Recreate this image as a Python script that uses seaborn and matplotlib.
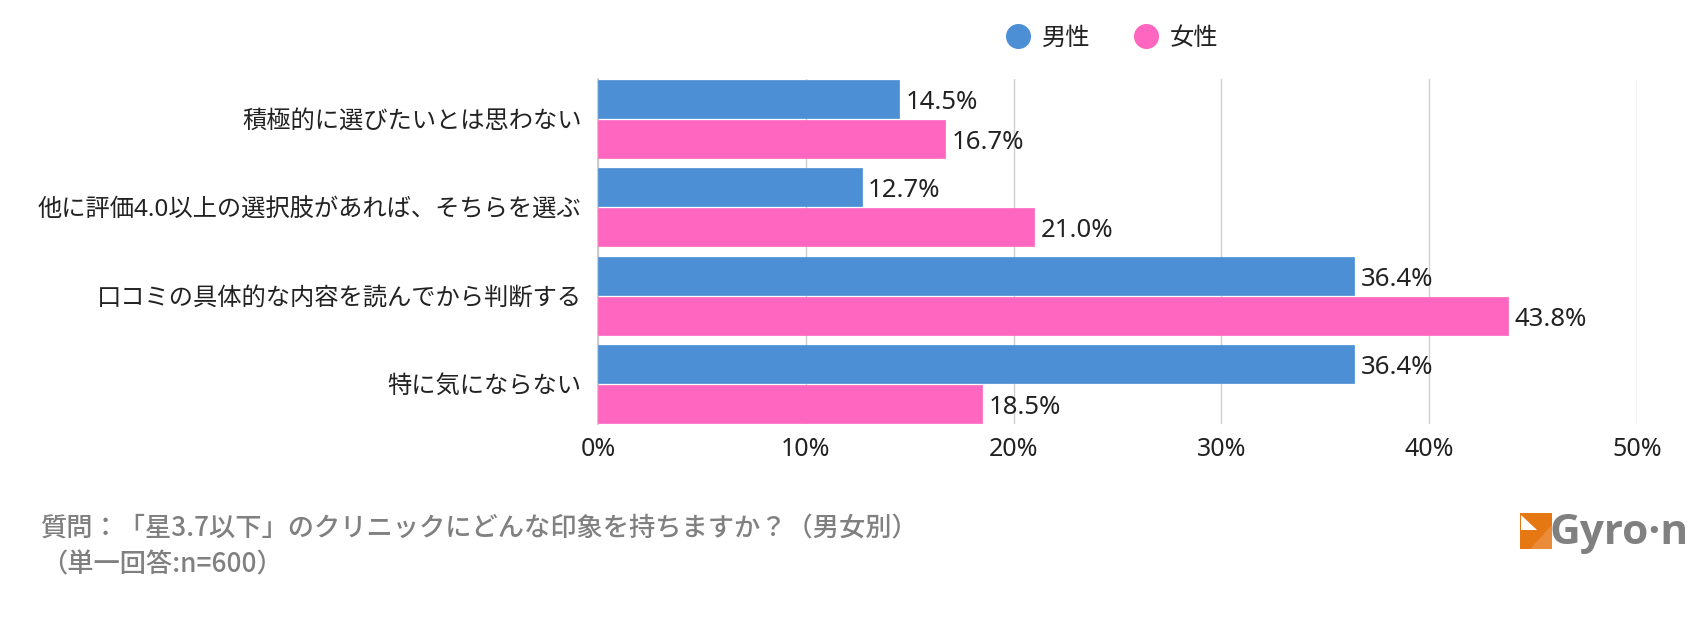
import pandas as pd
import matplotlib
matplotlib.use("Agg")
import matplotlib.pyplot as plt
import seaborn as sns
from matplotlib.lines import Line2D
from matplotlib.patches import Polygon, Rectangle

categories = ["積極的に選びたいとは思わない", "他に評価4.0以上の選択肢があれば、そちらを選ぶ",
              "口コミの具体的な内容を読んでから判断する", "特に気にならない"]
male = [14.5, 12.7, 36.4, 36.4]
female = [16.7, 21.0, 43.8, 18.5]
series_names = ["男性", "女性"]
x_ticks = [0, 10, 20, 30, 40, 50]
# full-width punctuation: \uff1a colon, \uff1f question mark, \uff08 \uff09 brackets
note_lines = ["質問\uff1a「星3.7以下」のクリニックにどんな印象を持ちますか\uff1f\uff08男女別\uff09",
              "\uff08単一回答:n=600\uff09"]

W, H = 1700, 630
BLUE = "#4d8fd5"
PINK = "#ff66c0"

sns.set_theme(style="white")
plt.rcParams["font.family"] = ["Noto Sans", "Noto Sans CJK JP", "DejaVu Sans"]

df = pd.DataFrame({
    "category": categories * 2,
    "value": male + female,
    "gender": [series_names[0]] * 4 + [series_names[1]] * 4,
})

fig = plt.figure(figsize=(17, 6.3), dpi=100)
ax = fig.add_axes([598 / W, 1 - 424 / H, (1637 - 598) / W, 345 / H])

sns.barplot(data=df, y="category", x="value", hue="gender", order=categories,
            hue_order=series_names, palette=[BLUE, PINK], width=0.904, gap=0.05,
            saturation=1, legend=False, zorder=3, ax=ax)

for cont in ax.containers:
    for bar in cont:
        bar.set_edgecolor(bar.get_facecolor())
        bar.set_linewidth(0.5)
        bar.set_joinstyle("round")
    labels = ax.bar_label(cont, fmt="%.1f%%", padding=5, fontsize=18.5, color="#222222", zorder=4)
    for lab in labels:
        lab.xyann = (4.5, -2.5)

ax.set_xlim(0, 50)
ax.set_ylim(3.452, -0.452)
ax.set_xticks(x_ticks)
ax.set_xticklabels([f"{t}%" for t in x_ticks], fontsize=18, color="#222222")
ax.tick_params(axis="x", length=0, pad=9)
ax.tick_params(axis="y", length=0, pad=11.9, labelsize=17.5, labelcolor="#222222")
ax.set_xlabel("")
ax.set_ylabel("")
ax.grid(axis="x", color="#d0d0d0", linewidth=1, zorder=0)
ax.set_axisbelow(True)
for name in ["top", "right", "bottom"]:
    ax.spines[name].set_visible(False)
ax.spines["left"].set_color("#c8c8c8")

# legend, placed by hand
handles = [Line2D([], [], marker="o", linestyle="", markersize=17, color=c) for c in [BLUE, PINK]]
fig.legend(handles, series_names, loc="center", bbox_to_anchor=(1106 / W, 1 - 39 / H),
           ncol=2, frameon=False, fontsize=17.5, columnspacing=1.27, handletextpad=0.0,
           labelcolor="#222222")

# question note
fig.text(41 / W, 1 - 529 / H, note_lines[0], fontsize=18.9, color="#808080",
         fontweight="medium", family=["Noto Sans CJK JP"], va="center")
fig.text(41 / W, 1 - 565 / H, note_lines[1], fontsize=18.9, color="#808080",
         fontweight="medium", family=["Noto Sans CJK JP"], va="center")

# logo
logo = fig.add_axes([0, 0, 1, 1], facecolor="none")
logo.set_xlim(0, W)
logo.set_ylim(H, 0)
logo.axis("off")
logo.add_patch(Rectangle((1520, 513), 32, 36, color="#e67814", lw=0))
logo.add_patch(Polygon([[1521, 515], [1537, 530], [1521, 530]], color="white", lw=0))
logo.add_patch(Polygon([[1530, 549], [1552, 549], [1552, 525]], color="#ea8c3a", lw=0))
logo.text(1550, 533, "Gyro·n", fontsize=30.5, fontweight="bold", color="#808080",
          family=["Open Sans"], va="center", ha="left")

fig.savefig("out.png", dpi=100, facecolor="white")
